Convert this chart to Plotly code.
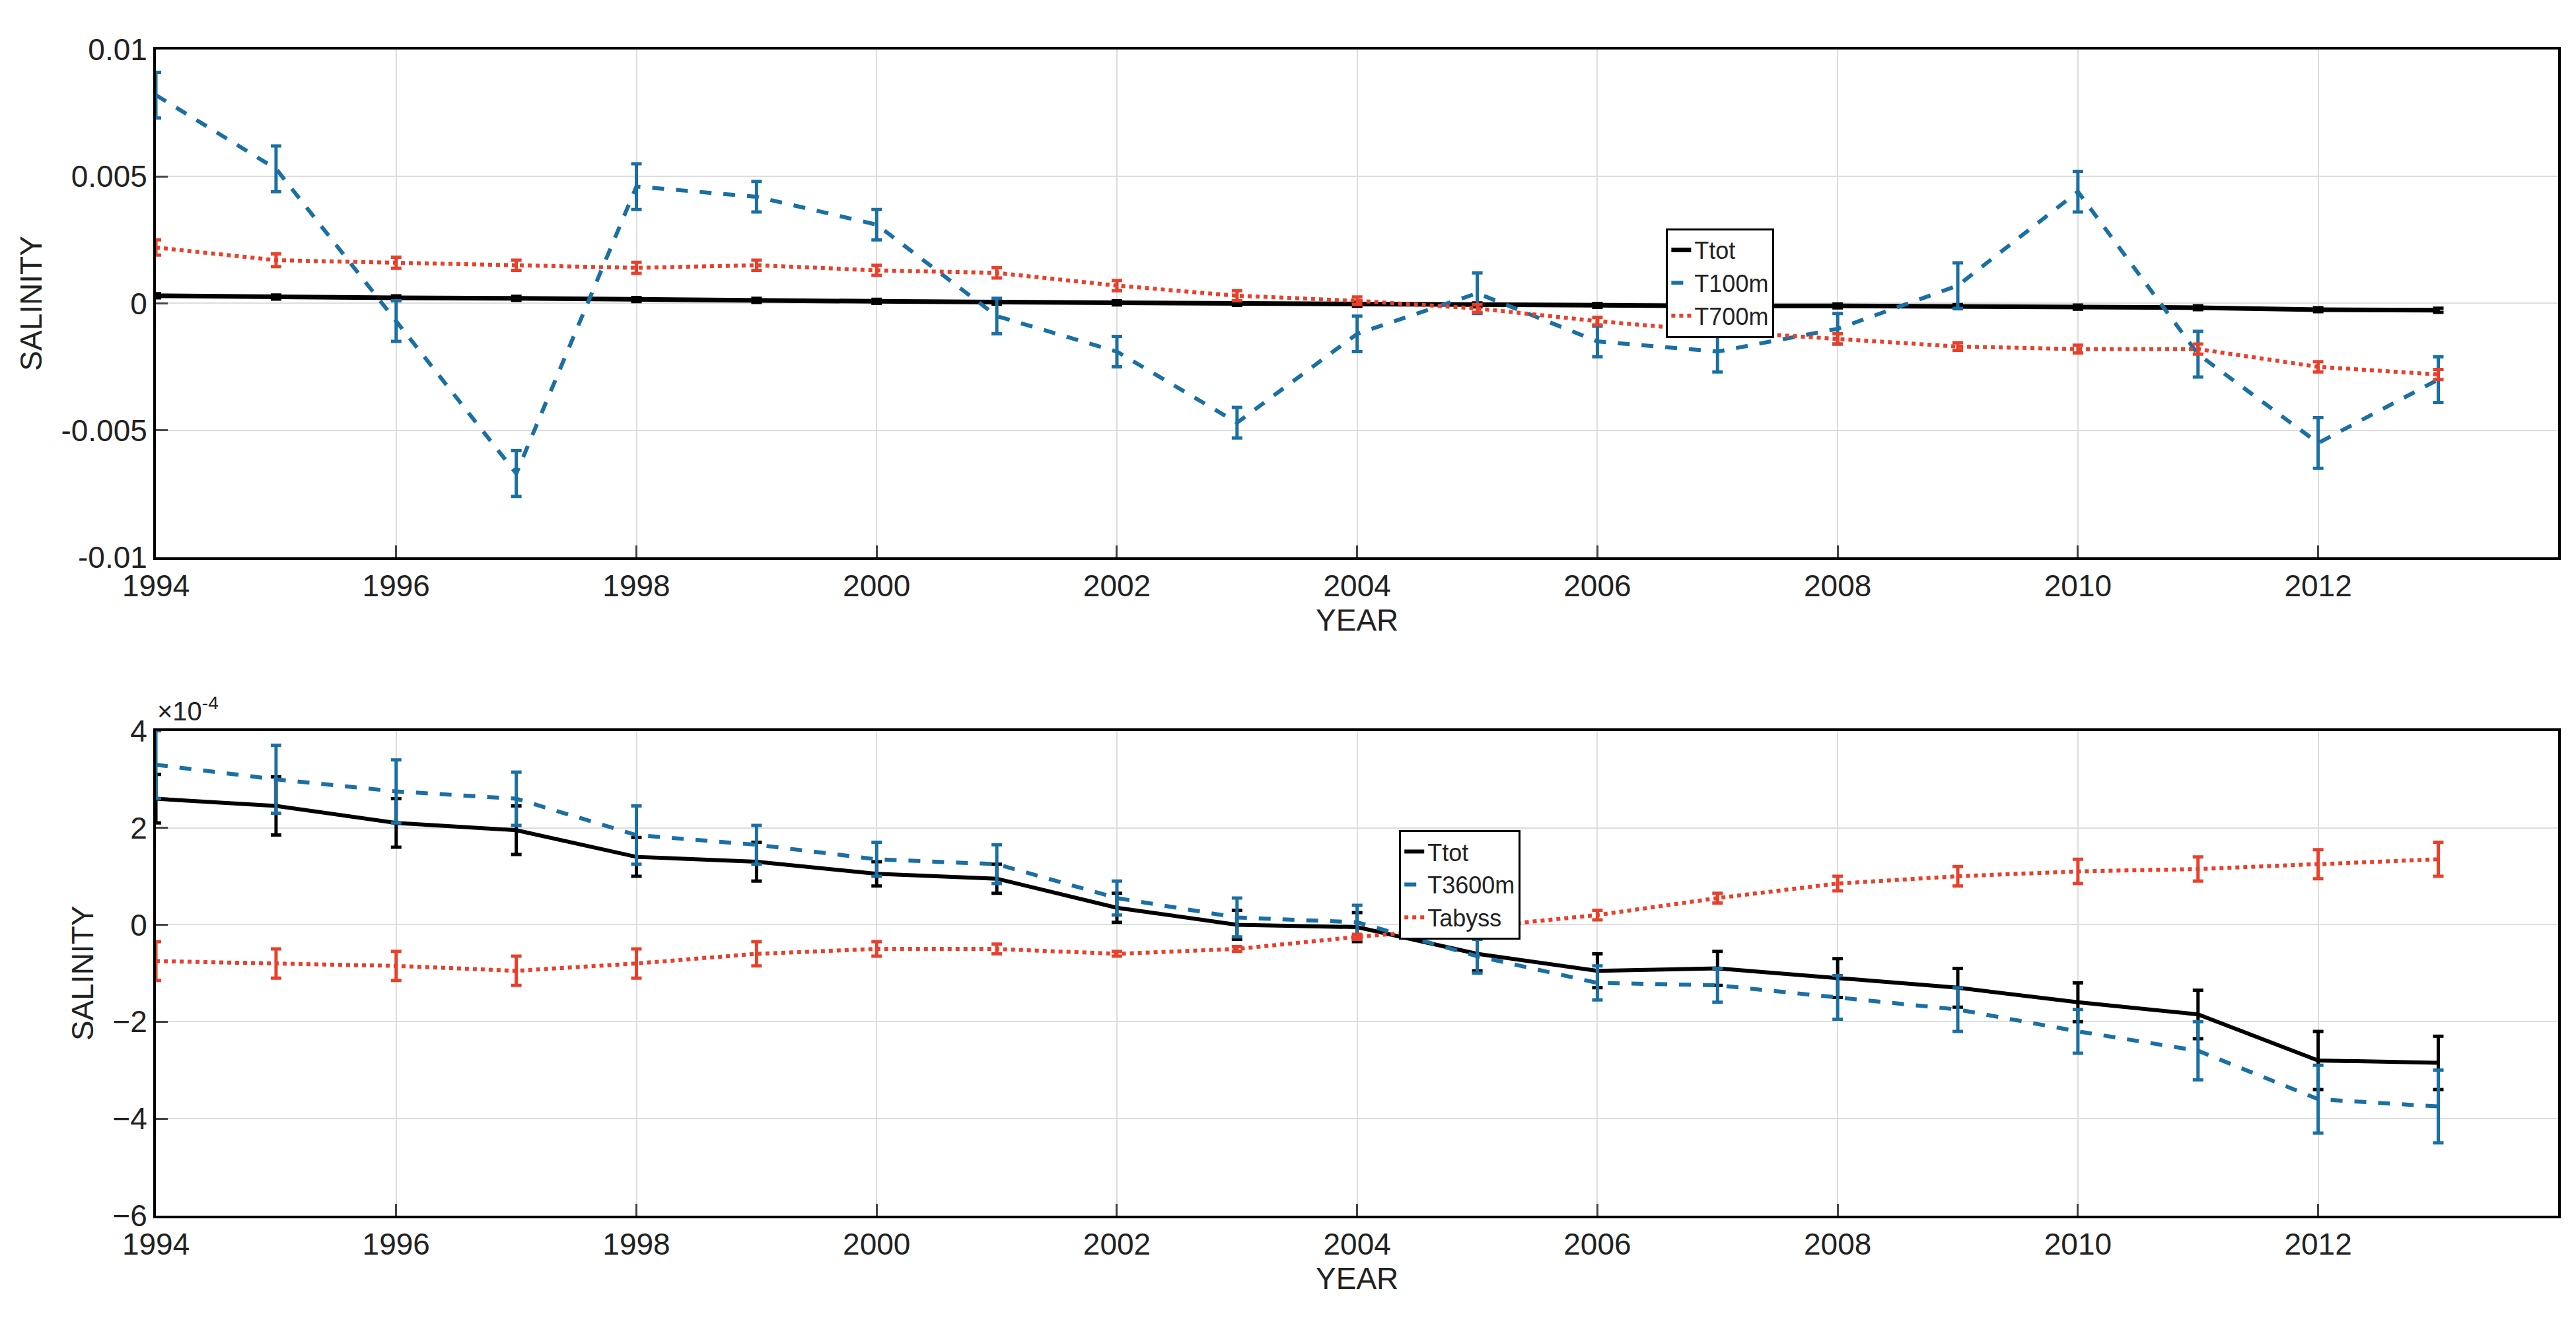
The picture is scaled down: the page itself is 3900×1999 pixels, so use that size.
import plotly.graph_objects as go

years = list(range(1994, 2014))
# top panel
top_tot = [0.0003,0.00025,0.00022,0.0002,0.00015,0.00012,0.00008,0.00005,0.00002,0.0,-0.00003,-0.00006,-0.00008,-0.0001,-0.0001,-0.00013,-0.00015,-0.00017,-0.00025,-0.00027]
top_tot_err = [0.00008]*20
t100 = [0.0082,0.0053,-0.0007,-0.0067,0.0046,0.0042,0.0031,-0.0005,-0.0019,-0.0047,-0.0012,0.0004,-0.0015,-0.0019,-0.001,0.0007,0.0044,-0.002,-0.0055,-0.003]
t100_err = [0.0009,0.0009,0.0008,0.0009,0.0009,0.0006,0.0006,0.0007,0.0006,0.0006,0.0007,0.0008,0.0006,0.0008,0.0006,0.0009,0.0008,0.0009,0.001,0.0009]
t700 = [0.0022,0.0017,0.0016,0.0015,0.0014,0.0015,0.0013,0.0012,0.0007,0.0003,0.0001,-0.0002,-0.0007,-0.0011,-0.0014,-0.0017,-0.0018,-0.0018,-0.0025,-0.0028]
t700_err = [0.0003,0.00025,0.00022,0.0002,0.00022,0.0002,0.0002,0.0002,0.0002,0.0002,0.00015,0.00015,0.00015,0.00015,0.0002,0.00015,0.00015,0.0002,0.0002,0.0002]
# bottom panel (units of 1e-4)
bot_tot = [2.6,2.45,2.1,1.95,1.4,1.3,1.05,0.95,0.35,0.0,-0.05,-0.6,-0.95,-0.9,-1.1,-1.3,-1.6,-1.85,-2.8,-2.85]
bot_tot_err = [0.5,0.6,0.5,0.5,0.4,0.4,0.25,0.3,0.3,0.3,0.3,0.35,0.35,0.35,0.4,0.4,0.4,0.5,0.6,0.55]
t3600 = [3.3,3.0,2.75,2.6,1.85,1.65,1.35,1.25,0.55,0.15,0.05,-0.65,-1.2,-1.25,-1.5,-1.75,-2.2,-2.6,-3.6,-3.75]
t3600_err = [0.7,0.7,0.65,0.55,0.6,0.4,0.35,0.4,0.35,0.4,0.35,0.35,0.35,0.35,0.45,0.45,0.45,0.6,0.7,0.75]
tabyss = [-0.75,-0.8,-0.85,-0.95,-0.8,-0.6,-0.5,-0.5,-0.6,-0.5,-0.25,-0.05,0.2,0.55,0.85,1.0,1.1,1.15,1.25,1.35]
tabyss_err = [0.4,0.3,0.3,0.3,0.3,0.25,0.15,0.1,0.05,0.05,0.05,0.05,0.1,0.1,0.15,0.2,0.25,0.25,0.3,0.35]

BLACK = '#000000'; BLUE = '#1a6fa3'; RED = '#e8402a'
FONT = 'Liberation Sans, Arial, sans-serif'

fig = go.Figure()
def add(y, e, name, color, dash, xa, ya, legend, w):
    fig.add_trace(go.Scatter(x=years, y=y, name=name, mode='lines', xaxis=xa, yaxis=ya, legend=legend,
        line=dict(color=color, dash=dash, width=w),
        error_y=dict(type='data', array=e, color=color, thickness=5, width=8)))

add(top_tot, top_tot_err, 'Ttot', BLACK, 'solid', 'x', 'y', 'legend', 7)
add(t100, t100_err, 'T100m', BLUE, 'dash', 'x', 'y', 'legend', 6)
add(t700, t700_err, 'T700m', RED, 'dot', 'x', 'y', 'legend', 6)
add(bot_tot, bot_tot_err, 'Ttot', BLACK, 'solid', 'x2', 'y2', 'legend2', 6)
add(t3600, t3600_err, 'T3600m', BLUE, 'dash', 'x2', 'y2', 'legend2', 6)
add(tabyss, tabyss_err, 'Tabyss', RED, 'dot', 'x2', 'y2', 'legend2', 6)

ax = dict(showline=True, linecolor='black', linewidth=4, mirror=True, ticks='inside', ticklen=18,
          tickwidth=3, showgrid=True, gridcolor='#dddddd', gridwidth=2, zeroline=False,
          tickfont=dict(size=46, family=FONT, color='#222'))
xt = dict(range=[1994, 2014], dtick=2, tick0=1994, **ax)
XD = [0.046, 0.991]
fig.update_layout(
    width=3900, height=1999, paper_bgcolor='white', plot_bgcolor='white',
    margin=dict(l=0, r=0, t=0, b=0), font=dict(family=FONT, color='#222'),
    xaxis=dict(domain=XD, anchor='y', title=dict(text='YEAR', font=dict(size=46), standoff=12), **xt),
    yaxis=dict(domain=[0.584, 0.979], anchor='x', range=[-0.01, 0.01], tickvals=[-0.01,-0.005,0,0.005,0.01],
               ticktext=['-0.01','-0.005','0','0.005','0.01'], title=dict(text='SALINITY', font=dict(size=46), standoff=15), **ax),
    xaxis2=dict(domain=XD, anchor='y2', title=dict(text='YEAR', font=dict(size=46), standoff=12), **xt),
    yaxis2=dict(domain=[0.072, 0.449], anchor='x2', range=[-6, 4], dtick=2,
                title=dict(text='SALINITY', font=dict(size=46), standoff=15), **ax),
    legend=dict(x=0.64, y=0.84, xanchor='left', yanchor='top', bgcolor='white', bordercolor='black',
                borderwidth=3, font=dict(size=36), tracegroupgap=0),
    legend2=dict(x=0.535, y=0.372, xanchor='left', yanchor='top', bgcolor='white', bordercolor='black',
                 borderwidth=3, font=dict(size=36)),
    annotations=[dict(text='×10<sup>-4</sup>', x=XD[0], y=0.452, xref='paper', yref='paper',
                      xanchor='left', yanchor='bottom', showarrow=False, font=dict(size=40, family=FONT))],
)
fig.write_html('out.html')
